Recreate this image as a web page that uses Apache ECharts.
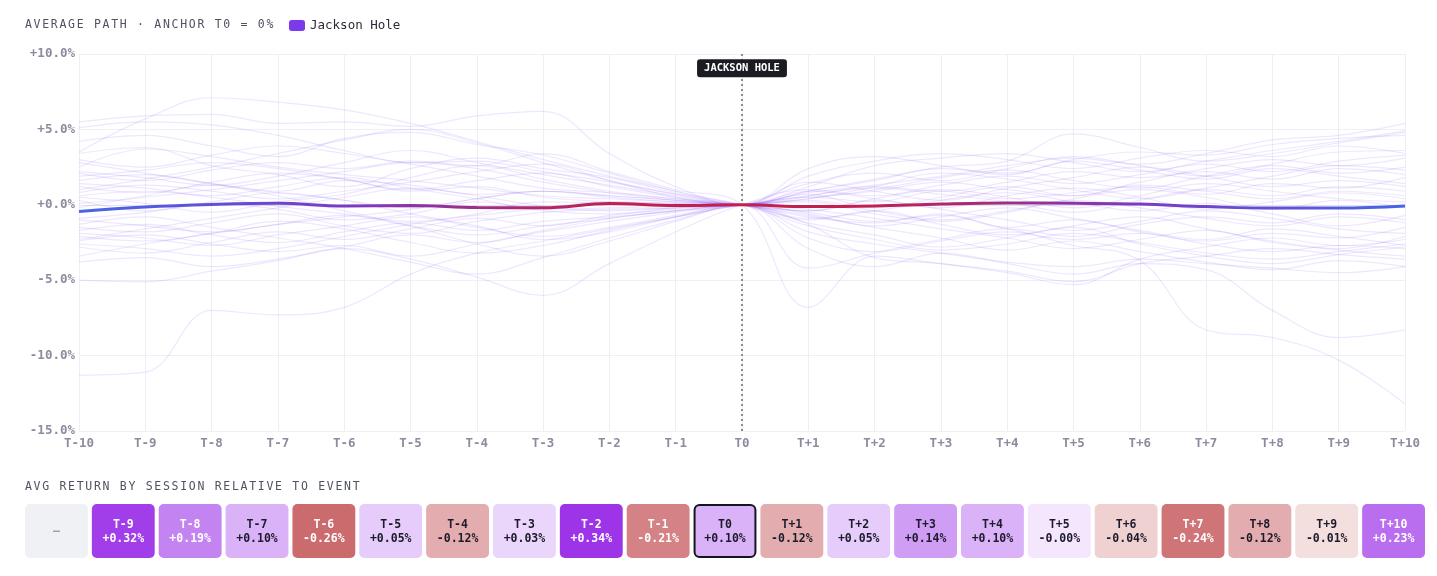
<!DOCTYPE html>
<html>
<head>
<meta charset="utf-8">
<script src="https://cdn.jsdelivr.net/npm/echarts@6/dist/echarts.min.js"></script>
<style>
  html, body { margin: 0; padding: 0; background: #fff; }
  #wrap { position: relative; width: 1437px; height: 576px; }
  #chart { position: absolute; left: 0; top: 0; width: 1437px; height: 576px; }
  .head {
    position: absolute; left: 25px;
    font-family: "DejaVu Sans Mono", monospace; font-size: 11.5px; line-height: 14px;
    letter-spacing: 1.7px; color: #4f5261; white-space: nowrap; z-index: 2;
  }
</style>
</head>
<body>
<div id="wrap">
  <div id="chart"></div>
  <div class="head" style="top:17px">AVERAGE PATH · ANCHOR T0 = 0%</div>
  <div class="head" style="top:479px">AVG RETURN BY SESSION RELATIVE TO EVENT</div>
</div>
<script>
var MONO = '"DejaVu Sans Mono", monospace';

var categories = ['T-10','T-9','T-8','T-7','T-6','T-5','T-4','T-3','T-2','T-1','T0',
                  'T+1','T+2','T+3','T+4','T+5','T+6','T+7','T+8','T+9','T+10'];

// average path (%), anchored at T0
var avgPath = [-0.45,-0.15,0.02,0.10,-0.08,-0.05,-0.18,-0.20,0.08,-0.05,0,
               -0.12,-0.08,0.05,0.12,0.10,0.05,-0.12,-0.22,-0.22,-0.08];

// avg return per session (%) - first one has no value
var tileReturns = [null,0.32,0.19,0.10,-0.26,0.05,-0.12,0.03,0.34,-0.21,0.10,
                   -0.12,0.05,0.14,0.10,-0.00,-0.04,-0.24,-0.12,-0.01,0.23];
var tileText = ['–','+0.32%','+0.19%','+0.10%','-0.26%','+0.05%','-0.12%','+0.03%','+0.34%','-0.21%','+0.10%',
                '-0.12%','+0.05%','+0.14%','+0.10%','-0.00%','-0.04%','-0.24%','-0.12%','-0.01%','+0.23%'];

// individual event paths (%)
var eventPaths = [
  [-11.3,-11.1,-7.0,-7.3,-6.8,-4.6,-3.2,-2.4,-1.6,-0.8,0, 0.6,1.2,0.9,1.5,2.2,1.8,2.4,3.0,2.6,3.1],
  [3.5,5.7,7.1,6.8,6.3,5.4,4.2,3.0,1.9,0.9,0, -0.5,-1.1,-0.7,-1.6,-2.3,-1.9,-2.6,-3.1,-2.7,-2.9],
  [5.5,5.9,6.0,5.4,5.5,5.2,5.9,6.2,3.4,1.2,0, 0.9,1.6,2.4,2.1,3.0,3.5,3.3,4.0,4.4,4.6],
  [5.1,5.5,5.3,4.6,3.6,2.8,2.9,2.2,1.5,0.7,0, 1.2,2.6,3.1,3.4,2.8,2.2,2.9,3.6,4.2,4.9],
  [3.4,3.8,2.6,2.0,1.2,2.4,3.1,2.4,1.8,0.8,0, -1.4,-2.3,-3.0,-2.6,-1.9,-2.5,-3.2,-3.6,-3.1,-2.6],
  [2.5,3.7,3.2,2.5,2.0,1.6,1.1,0.6,0.4,0.2,0, 0.8,1.3,1.9,2.6,3.1,2.7,3.4,4.3,4.6,5.4],
  [2.1,1.6,2.3,2.8,2.4,2.9,2.6,3.4,2.2,1.0,0, -6.8,-3.4,-3.9,-4.4,-5.1,-3.9,-3.4,-2.9,-3.3,-3.6],
  [1.6,2.0,1.4,0.9,1.6,1.3,0.7,0.9,0.6,0.3,0, 0.5,0.2,0.9,0.4,0.8,1.2,0.7,1.4,1.1,1.8],
  [1.2,0.8,1.5,2.1,1.7,0.9,1.2,0.5,0.2,0.1,0, -0.4,0.3,-0.2,0.6,1.1,0.5,-0.3,0.2,0.8,0.4],
  [0.8,1.3,0.9,0.4,0.9,1.5,2.2,2.7,1.6,0.5,0, 0.4,1.0,1.8,2.3,1.6,1.1,1.9,2.6,2.1,2.5],
  [0.3,-0.4,0.2,0.8,0.3,-0.2,0.4,0.9,0.6,0.3,0, -0.8,-1.2,-0.6,-1.5,-1.0,-1.8,-2.4,-1.9,-2.2,-1.5],
  [-1.5,-1.8,-1.2,-0.6,-1.4,-1.9,-1.1,-0.5,-0.3,-0.2,0, 0.6,1.1,0.7,0.2,-0.5,0.3,1.0,0.6,1.2,0.9],
  [-1.7,-1.3,-2.0,-2.5,-1.8,-1.2,-1.7,-1.1,-0.8,-0.4,0, -1.8,-2.6,-3.2,-3.8,-4.1,-3.6,-3.9,-4.2,-4.5,-4.1],
  [-2.1,-2.4,-1.9,-1.3,-0.7,-1.4,-2.0,-1.4,-0.9,-0.4,0, 1.4,2.1,1.6,2.4,3.2,2.6,1.9,2.7,3.5,3.6],
  [-2.4,-2.0,-2.6,-3.1,-2.7,-3.4,-2.6,-1.8,-1.1,-0.5,0, -1.0,-0.4,-1.3,-2.0,-1.4,-0.8,-1.6,-2.4,-2.9,-2.1],
  [-2.8,-3.2,-2.5,-1.8,-2.3,-1.6,-0.9,-1.4,-0.7,-0.3,0, 0.2,-0.6,-1.1,-0.5,0.3,-0.2,-0.9,-1.4,-0.8,-1.2],
  [-3.8,-3.5,-4.1,-3.6,-2.8,-2.0,-2.5,-1.7,-0.9,-0.4,0, -2.2,-3.1,-2.4,-1.8,-2.7,-3.7,-8.3,-8.8,-10.3,-13.2],
  [-5.0,-5.1,-4.4,-3.7,-2.9,-3.6,-4.8,-6.0,-3.9,-1.8,0, 1.0,0.6,1.3,1.9,1.4,2.0,2.7,2.2,2.9,3.3],
  [4.2,4.6,3.9,3.2,4.4,4.8,4.0,3.3,2.1,0.9,0, 0.7,-0.2,0.5,1.2,0.6,1.5,2.2,1.7,2.4,2.0],
  [1.9,2.3,2.8,2.4,1.7,1.0,1.6,2.1,1.2,0.5,0, 1.9,2.9,3.4,3.0,2.4,3.1,3.6,3.2,3.9,3.4],
  [0.5,0.1,-0.5,0.2,0.7,1.8,2.6,1.7,0.9,0.4,0, -1.2,-2.0,-2.8,-2.2,-1.5,-2.6,-3.4,-3.9,-3.3,-2.8],
  [-0.9,-0.5,0.1,-0.3,-1.0,-0.6,0.2,-0.4,-0.6,-0.2,0, -0.3,-0.9,-1.6,-2.2,-2.9,-2.3,-1.7,-2.5,-3.0,-3.4],
  [-1.3,-0.8,-1.5,-2.2,-2.9,-3.8,-4.6,-3.5,-2.2,-1.0,0, -4.2,-3.2,-2.3,-1.6,-2.1,-1.3,-0.8,-1.2,-0.6,-1.0],
  [2.2,1.8,1.3,1.9,2.8,3.6,2.8,2.0,1.3,0.6,0, 2.4,3.2,2.6,2.0,2.9,2.3,1.7,2.4,1.9,1.4],
  [-2.6,-2.9,-3.4,-2.9,-2.1,-1.3,-0.6,0.2,0.1,0.0,0, 0.9,1.7,2.5,2.9,4.7,3.8,2.9,3.4,4.1,4.8],
  [1.0,1.7,2.5,3.4,4.3,5.0,4.1,2.8,1.6,0.7,0, -0.7,-1.5,-2.2,-3.0,-2.4,-3.1,-3.8,-4.3,-3.7,-4.1],
  [-0.2,0.6,1.3,0.8,0.3,-0.6,-1.4,-2.3,-1.8,-0.8,0, 0.4,1.2,2.1,1.7,1.0,0.4,1.1,1.9,2.6,2.3],
  [2.8,2.1,1.4,0.6,-0.4,-1.4,-2.6,-3.4,-2.4,-1.1,0, -2.9,-4.1,-3.2,-3.9,-4.6,-3.9,-4.3,-7.0,-8.8,-8.3],
  [-3.4,-2.6,-1.9,-1.1,-1.6,-2.5,-3.2,-2.7,-1.7,-0.8,0, -1.3,-3.5,-3.9,-4.5,-5.3,-3.6,-2.8,-2.2,-2.7,-2.3],
  [0.1,0.5,1.0,1.6,2.2,2.8,2.4,1.5,0.8,0.3,0, 0.5,0.9,1.5,1.0,0.6,1.3,0.9,0.4,0.9,0.6],
  [-1.0,-1.4,-1.8,-1.3,-0.8,-0.3,0.4,0.9,0.5,0.2,0, -0.9,-0.4,0.3,0.8,0.2,-0.4,0.1,-0.6,-1.4,-0.7],
  [1.4,1.1,0.6,1.2,1.8,1.1,0.4,-0.3,-0.2,-0.1,0, 1.5,0.9,0.3,1.1,1.8,2.5,1.9,1.2,1.6,1.2],
  [-1.9,-2.2,-2.7,-2.0,-1.4,-0.8,-1.5,-2.1,-1.5,-0.7,0, -0.6,-1.4,-0.8,-0.2,-0.9,-1.7,-2.3,-1.6,-2.1,-2.7],
  [3.0,2.5,3.3,3.9,3.4,2.7,1.9,1.1,0.8,0.4,0, 0.3,-0.4,-1.0,-0.4,0.4,1.0,0.5,-0.3,0.3,-0.2],
  [-2.3,-1.6,-0.9,-0.2,0.5,1.1,0.6,-0.1,-0.4,-0.2,0, -0.4,0.4,1.0,0.5,-0.2,0.6,1.4,0.9,0.4,0.2],
  [0.6,0.9,0.5,-0.1,-0.6,-1.1,-0.7,-0.2,0.2,0.1,0, 0.9,0.4,-0.3,-1.0,-1.7,-1.1,-0.4,-0.9,-1.6,-1.9]
];

var yMin = -15, yMax = 10, yStep = 5;

function pctLabel(v) {
    return (v >= 0 ? '+' : '') + v.toFixed(1) + '%';
}

function tileColor(v) {
    if (v == null) return '#f0f1f4';
    if (v >= 0) return echarts.color.lerp(Math.min(1, v / 0.34), ['#f3e6fd', '#9d34e8']);
    return echarts.color.lerp(Math.min(1, -v / 0.26), ['#f6e4e4', '#cc6b6e']);
}

var myChart = echarts.init(document.getElementById('chart'));

var series = eventPaths.map(function (p) {
    return {
        type: 'line',
        data: p,
        smooth: 0.4,
        symbol: 'none',
        silent: true,
        lineStyle: { width: 1.2, color: 'rgba(139,92,246,0.15)' },
        z: 2
    };
});

series.push({
    type: 'line',
    name: 'Jackson Hole',
    data: avgPath,
    smooth: 0.4,
    symbol: 'none',
    z: 5,
    lineStyle: {
        width: 3,
        color: {
            type: 'linear', x: 0, y: 0, x2: 1, y2: 0,
            colorStops: [
                { offset: 0, color: '#4766e8' },
                { offset: 0.2, color: '#7a3bc4' },
                { offset: 0.4, color: '#c2204e' },
                { offset: 0.6, color: '#c2204e' },
                { offset: 0.8, color: '#7a3bc4' },
                { offset: 1, color: '#4766e8' }
            ]
        }
    },
    markLine: {
        silent: true,
        symbol: ['none', 'none'],
        label: { show: false },
        lineStyle: { color: '#8c8c8c', type: [2, 3], width: 2 },
        data: [{ xAxis: 'T0' }]
    },
    markPoint: {
        silent: true,
        symbol: 'rect',
        symbolSize: [1, 1],
        itemStyle: { color: 'rgba(0,0,0,0)' },
        label: {
            show: true,
            position: 'inside',
            formatter: 'JACKSON HOLE',
            backgroundColor: '#1a1b23',
            borderRadius: 3,
            padding: [4, 7, 3, 7],
            color: '#fff',
            fontFamily: MONO,
            fontWeight: 'bold',
            fontSize: 10.5
        },
        data: [{ coord: ['T0', 9.05] }]
    }
});

// session tiles
series.push({
    type: 'custom',
    xAxisIndex: 1,
    yAxisIndex: 1,
    silent: true,
    data: tileReturns.map(function (v, i) { return [i, 0]; }),
    renderItem: function (params, api) {
        var i = api.value(0);
        var v = tileReturns[i];
        var c = api.coord([i, 0]);
        var s = api.size([1, 1]);
        var x0 = c[0] - s[0] / 2, w = s[0] - 4, h = s[1];
        var strong = v != null && Math.abs(v) >= 0.17;
        var txt = v == null ? tileText[i] : categories[i] + '\n' + tileText[i];
        var isAnchor = categories[i] === 'T0';
        var inset = isAnchor ? 1 : 0;
        return {
            type: 'group',
            children: [{
                type: 'rect',
                shape: { x: x0 + inset, y: c[1] - h / 2 + inset,
                         width: w - 2 * inset, height: h - 2 * inset, r: 5 },
                style: {
                    fill: tileColor(v),
                    stroke: isAnchor ? '#15161d' : null,
                    lineWidth: isAnchor ? 2 : 0
                }
            }, {
                type: 'text',
                style: {
                    x: x0 + w / 2, y: c[1] + 1,
                    text: txt,
                    align: 'center',
                    verticalAlign: 'middle',
                    fontFamily: MONO,
                    fontWeight: 'bold',
                    fontSize: 11.5,
                    lineHeight: 14,
                    fill: v == null ? '#a0a2b0' : (strong ? '#ffffff' : '#1c1b2b')
                }
            }]
        };
    }
});

var option = {
    animation: false,
    backgroundColor: '#fff',
    legend: {
        left: 284,
        top: 14,
        icon: 'roundRect',
        itemWidth: 16,
        itemHeight: 11,
        selectedMode: false,
        data: [{ name: 'Jackson Hole', itemStyle: { color: '#7c3aed' } }],
        textStyle: { fontFamily: MONO, fontSize: 12.5, color: '#2b2b36' }
    },
    grid: [
        { left: 79, right: 32, top: 54, bottom: 145 },
        { left: 25, right: 8, top: 504, height: 54 }
    ],
    xAxis: [
        {
            type: 'category',
            data: categories,
            boundaryGap: false,
            axisLine: { lineStyle: { color: '#e4e2ec' } },
            axisTick: { show: false },
            axisLabel: { color: '#8b8d9e', fontWeight: 'bold', fontFamily: MONO, fontSize: 12.5, margin: 6 },
            splitLine: { show: true, lineStyle: { color: '#efedf6' } }
        },
        { type: 'category', gridIndex: 1, data: categories, show: false }
    ],
    yAxis: [
        {
            type: 'value',
            min: yMin,
            max: yMax,
            interval: yStep,
            axisLine: { show: false },
            axisTick: { show: false },
            axisLabel: { formatter: pctLabel, color: '#8b8d9e', fontWeight: 'bold', fontFamily: MONO, fontSize: 12.5, margin: 4 },
            splitLine: { lineStyle: { color: '#f0eef6' } }
        },
        { type: 'category', gridIndex: 1, data: ['row'], show: false }
    ],
    series: series
};

myChart.setOption(option);
</script>
</body>
</html>
